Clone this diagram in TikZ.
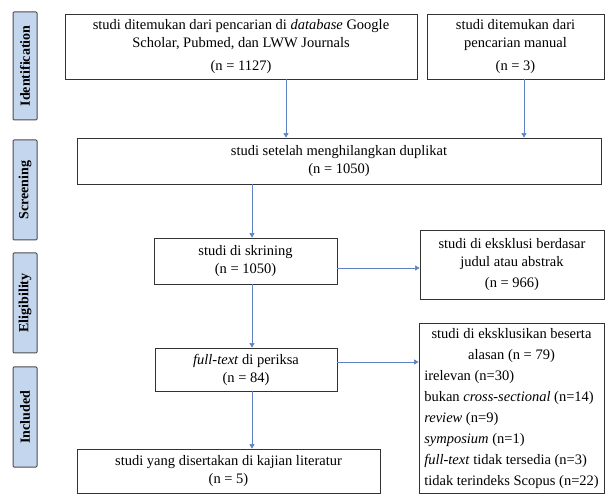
\documentclass[tikz,border=0pt]{standalone}
\usepackage{fontspec}
\setmainfont{Liberation Serif}
\usetikzlibrary{arrows.meta, positioning}
\definecolor{stagefill}{RGB}{196,214,238}
\definecolor{arrowblue}{RGB}{95,130,195}
\tikzset{
	box/.style={draw=black!80, line width=0.8pt, inner sep=2pt, align=center, font=\fontsize{14.5}{18}\selectfont},
	stage/.style={draw=black!70, fill=stagefill, line width=1pt, rounded corners=1pt, rotate=90, minimum width=100pt, minimum height=24pt, inner sep=0pt, font=\bfseries\fontsize{14}{16}\selectfont},
	link/.style={arrowblue, line width=0.6pt, -{Triangle[width=5pt,length=4.5pt]}}
}
\begin{document}
\begin{tikzpicture}[x=1pt, y=-1pt]
	\useasboundingbox (0,0) rectangle (608,494);
	\node[stage, minimum width=108pt] (ident) at (25,66) {Identification};
	\node[stage] (screen) at (25,190) {Screening};
	\node[stage] (elig) at (25,303) {Eligibility};
	\node[stage] (incl) at (25,417) {Included};
	\node[box, minimum width=352pt, minimum height=65pt] (dbase) at (241,46.5) {studi ditemukan dari pencarian di \textit{database} Google\\ Scholar, Pubmed, dan LWW Journals\\[5pt] (n = 1127)};
	\node[box, minimum width=177pt, minimum height=65pt] (manual) at (515.5,46.5) {studi ditemukan dari\\ pencarian manual\\[5pt] (n = 3)};
	\node[box, minimum width=524pt, minimum height=46pt] (dedup) at (339,161) {studi setelah menghilangkan duplikat\\ (n = 1050)};
	\node[box, minimum width=183pt, minimum height=46pt] (screened) at (245.5,261) {studi di skrining\\ (n = 1050)};
	\node[box, minimum width=184pt, minimum height=69pt] (excl1) at (512,264.5) {studi di eksklusi berdasar\\ judul atau abstrak\\[3pt] (n = 966)};
	\node[box, minimum width=182pt, minimum height=43pt] (fulltext) at (246,369.5) {\textit{full-text} di periksa\\ (n = 84)};
	\node[box, minimum width=185pt, minimum height=170pt, inner sep=1pt, font=\fontsize{14.5}{21}\selectfont] (excl2) at (511.5,408) {%
		\begin{tabular}{@{}l@{}}
		\multicolumn{1}{@{}c@{}}{studi di eksklusikan beserta}\\
		\multicolumn{1}{@{}c@{}}{alasan (n = 79)}\\
		irelevan (n=30)\\
		bukan \textit{cross-sectional} (n=14)\\
		\textit{review} (n=9)\\
		\textit{symposium} (n=1)\\
		\textit{full-text} tidak tersedia (n=3)\\
		tidak terindeks Scopus (n=22)
		\end{tabular}};
	\node[box, minimum width=303pt, minimum height=44pt] (final) at (228.5,471) {studi yang disertakan di kajian literatur\\ (n = 5)};
	\coordinate (a1) at (286,0);
	\coordinate (a2) at (524,0);
	\coordinate (a3) at (252,0);
	\coordinate (h1) at (0,268);
	\coordinate (h2) at (0,362);
	\draw[link] (dbase.south -| a1) -- (dedup.north -| a1);
	\draw[link] (manual.south -| a2) -- (dedup.north -| a2);
	\draw[link] (dedup.south -| a3) -- (screened.north -| a3);
	\draw[link] (screened.south -| a3) -- (fulltext.north -| a3);
	\draw[link] (fulltext.south -| a3) -- (final.north -| a3);
	\draw[link] (screened.east |- h1) -- (excl1.west |- h1);
	\draw[link] (fulltext.east |- h2) -- (excl2.west |- h2);
\end{tikzpicture}
\end{document}
